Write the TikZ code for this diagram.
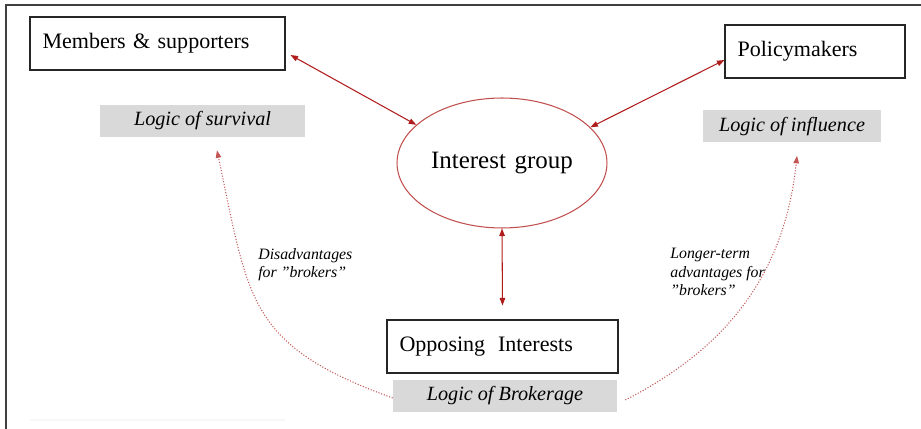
\documentclass[tikz,border=0pt]{standalone}
\usepackage{fontspec}
\setmainfont{Liberation Serif}
\usetikzlibrary{shapes.geometric,arrows.meta}

\definecolor{arrowred}{HTML}{B01C1C}
\definecolor{ringred}{HTML}{C0504D}
\definecolor{logicgray}{HTML}{D9D9D9}

\tikzstyle{actor} = [rectangle, minimum height=1.06cm, inner xsep=0.25cm, align=left, draw=black!85, line width=0.6pt, fill=white, font=\fontsize{12.55}{15}\selectfont]
\tikzstyle{logic} = [rectangle, minimum height=0.64cm, text centered, fill=logicgray, font=\fontsize{11.5}{13}\selectfont\itshape]
\tikzstyle{group} = [ellipse, minimum width=4.2cm, minimum height=2.6cm, inner sep=0pt, draw=ringred, line width=0.6pt, font=\fontsize{14.2}{17}\selectfont]
\tikzstyle{flow} = [arrowred, line width=0.6pt, <->, >={Triangle[length=1.5mm,width=1.1mm]}]
\tikzstyle{trend} = [arrowred!75, line width=0.6pt, densely dotted, ->, >={Triangle[length=1.5mm,width=1.1mm]}]
\tikzstyle{note} = [align=left, inner sep=0pt, anchor=north west, font=\fontsize{9}{10.5}\selectfont\itshape]

\begin{document}
\begin{tikzpicture}[x=0.02cm, y=-0.02cm, node distance=1.5cm]
      \useasboundingbox (0,0) rectangle (921,429);
      \draw [black!75, line width=0.9pt] (6,429) -- (6,5) -- (921,5);
      \draw [black!3, line width=0.6pt] (30,420) -- (285,420);

      \node (ig) [group] at (502,163) {Interest\hspace{0.1em} group};
      \node (mem) [actor, text width=4.6cm] at (157.5,43.5) {Members \& supporters};
      \node (pol) [actor, text width=3.1cm] at (815,51.5) {Policymakers};
      \node (opp) [actor, text width=4.12cm] at (502.5,346.5) {Opposing\hspace{0.25em} Interests};
      \node (surv) [logic, minimum width=4.1cm, below of=mem, xshift=0.9cm, yshift=-0.05cm] {Logic of survival};
      \node (infl) [logic, minimum width=3.56cm, below of=pol, xshift=-0.46cm] {Logic of influence};
      \node (brk) [logic, minimum width=4.48cm, below of=opp, xshift=0.05cm, yshift=0.51cm] {Logic of Brokerage};
      \node (dis) [note] at (258,248) {Disadvantages\\for ”brokers”};
      \node (adv) [note] at (670,248) {Longer-term\\advantages for\\”brokers”};

      \draw [flow] ([xshift=0.1cm, yshift=-0.23cm]mem.east) -- (ig.156);
      \draw [flow] ([yshift=-0.17cm]pol.west) -- (ig.22);
      \draw [flow] (ig.south) -- ([yshift=0.28cm]opp.north);
      \draw [trend] ([yshift=-0.04cm]brk.west) to[out=160, in=-78, looseness=1.3] ([xshift=0.29cm, yshift=-0.26cm]surv.south);
      \draw [trend] ([xshift=0.16cm, yshift=-0.08cm]brk.east) to[out=27, in=-96] ([xshift=0.1cm, yshift=-0.26cm]infl.south);
    \end{tikzpicture}
\end{document}
